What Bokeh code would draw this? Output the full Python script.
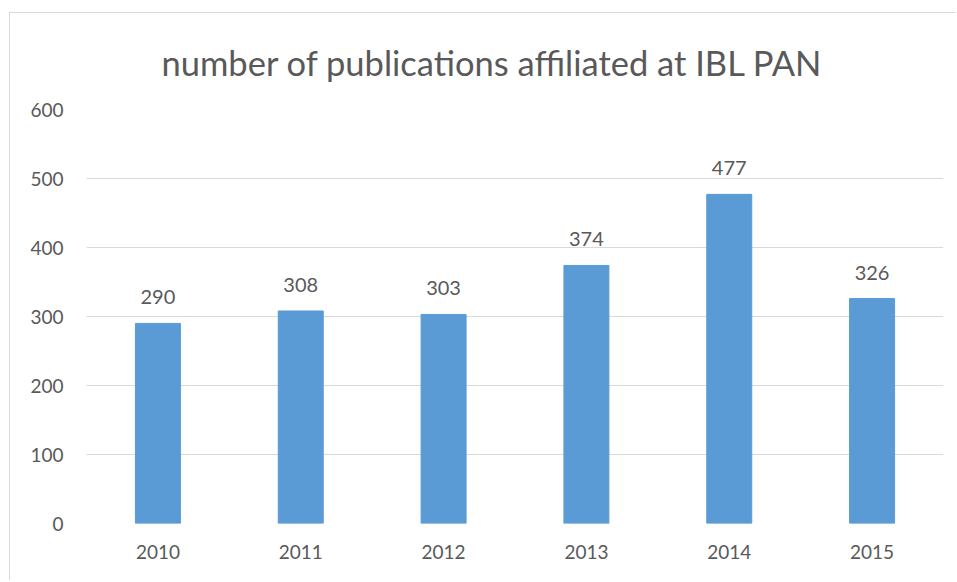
from bokeh.plotting import figure
from bokeh.models import ColumnDataSource, LabelSet
from bokeh.core.properties import value
from bokeh.embed import file_html
from bokeh.resources import INLINE

years = ["2010", "2011", "2012", "2013", "2014", "2015"]
counts = [290, 308, 303, 374, 477, 326]
labels = [str(c) for c in counts]

FONT = "Lato"
GRAY = "#595959"

src = ColumnDataSource(dict(x=years, y=counts, lab=labels))

p = figure(x_range=years, y_range=(0, 600), width=946, height=568,
           output_backend="svg", toolbar_location=None,
           min_border_left=76, min_border_right=13, min_border_top=95,
           min_border_bottom=58, margin=(12, 0, 0, 9))
p.styles = {"border-left": "1px solid #d9d9d9", "border-top": "1px solid #d9d9d9"}

p.vbar(x="x", top="y", width=0.315, source=src, color="#5B9BD5")

p.add_layout(LabelSet(x="x", y="y", text="lab", source=src,
                      text_align="center", text_baseline="middle",
                      y_offset=26, text_font=value(FONT), text_font_size="20px",
                      text_color=GRAY))

p.title.text = "number of publications affiliated at IBL PAN"
p.title.align = "left"
p.title.offset = 75
p.title.text_font = FONT
p.title.text_font_size = "34.5px"
p.title.text_font_style = "normal"
p.title.text_color = GRAY
p.title.standoff = 53

p.outline_line_color = None
p.xgrid.grid_line_color = None
p.ygrid.grid_line_color = "#d9d9d9"
p.ygrid.grid_line_width = 1
p.yaxis.ticker = [0, 100, 200, 300, 400, 500, 600]

for ax in (p.xaxis, p.yaxis):
    ax.axis_line_color = None
    ax.major_tick_line_color = None
    ax.minor_tick_line_color = None
    ax.major_label_text_font = FONT
    ax.major_label_text_font_size = "19px"
    ax.major_label_text_color = GRAY
p.yaxis.major_label_standoff = 17
p.xaxis.major_label_standoff = 15

open("out.html", "w").write(file_html(p, INLINE))
